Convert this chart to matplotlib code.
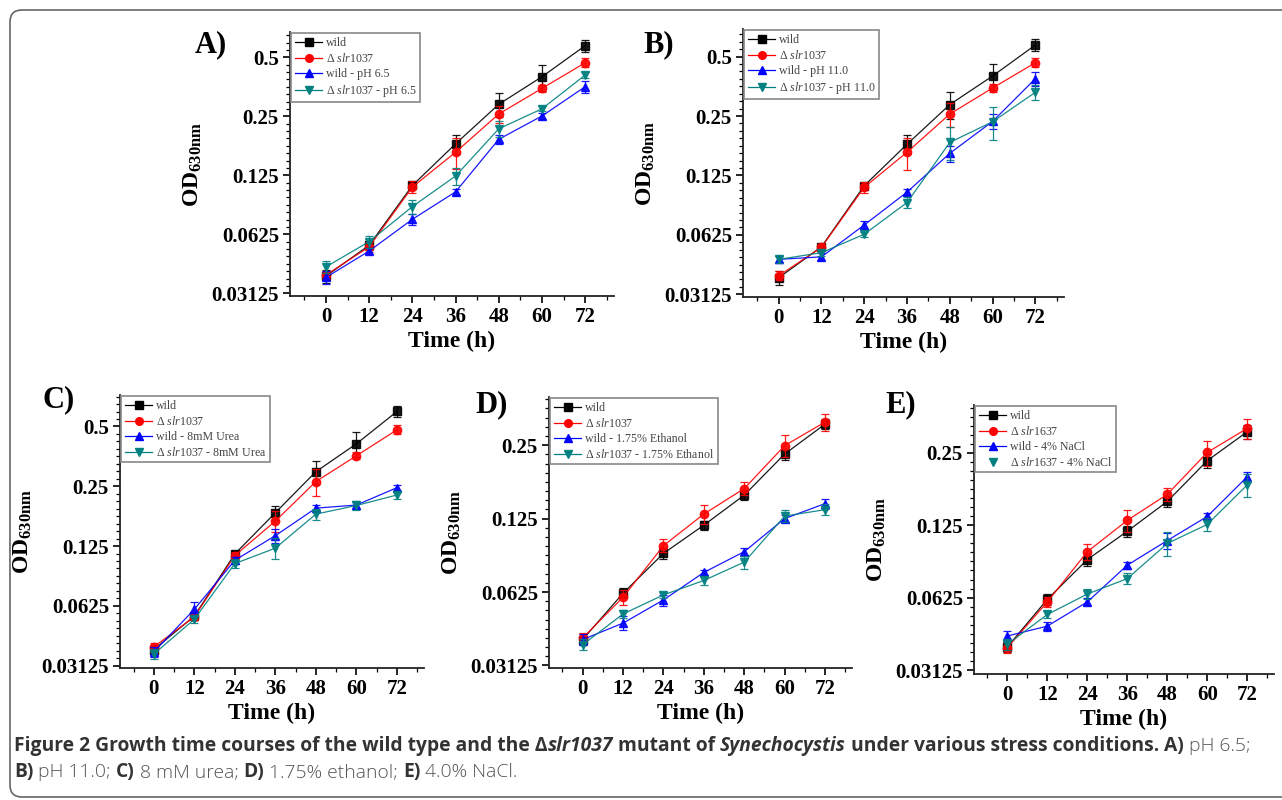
import numpy as np
import matplotlib
matplotlib.use('Agg')
import matplotlib.pyplot as plt
from matplotlib.lines import Line2D
from matplotlib.patches import FancyBboxPatch
from matplotlib.transforms import IdentityTransform
from matplotlib.ticker import FixedLocator, NullFormatter

plt.rcParams['font.family'] = ['Liberation Serif', 'DejaVu Serif']
plt.rcParams['mathtext.fontset'] = 'custom'
plt.rcParams['mathtext.rm'] = 'Liberation Serif'
plt.rcParams['mathtext.it'] = 'Liberation Serif:italic'
plt.rcParams['mathtext.bf'] = 'Liberation Serif:bold'

# time points (h)
time_h = [0, 12, 24, 36, 48, 60, 72]

# A) pH 6.5
a_wild = [0.0383, 0.055, 0.111, 0.181, 0.288, 0.398, 0.573]
a_mut = [0.0388, 0.054, 0.109, 0.164, 0.257, 0.347, 0.469]
a_wild_s = [0.0377, 0.0514, 0.0746, 0.103, 0.191, 0.251, 0.354]
a_mut_s = [0.0427, 0.0574, 0.0866, 0.124, 0.216, 0.273, 0.406]
a_wild_err = [0.003, 0.003, 0.004, 0.02, 0.04, 0.06, 0.04]
a_mut_err = [0.002, 0.003, 0.008, 0.03, 0.025, 0.015, 0.025]
a_wild_s_err = [0.003, 0.002, 0.005, 0.004, 0.01, 0.008, 0.025]
a_mut_s_err = [0.003, 0.004, 0.007, 0.012, 0.02, 0.008, 0.015]

# B) pH 11.0
b_wild = [0.0379, 0.0544, 0.111, 0.180, 0.286, 0.399, 0.573]
b_mut = [0.0388, 0.0541, 0.109, 0.164, 0.256, 0.347, 0.466]
b_wild_s = [0.047, 0.0484, 0.0702, 0.103, 0.162, 0.235, 0.387]
b_mut_s = [0.047, 0.0508, 0.0630, 0.0912, 0.184, 0.234, 0.330]
b_wild_err = [0.003, 0.002, 0.004, 0.02, 0.045, 0.06, 0.04]
b_mut_err = [0.002, 0.002, 0.007, 0.03, 0.035, 0.015, 0.025]
b_wild_s_err = [0.002, 0.002, 0.003, 0.004, 0.015, 0.02, 0.03]
b_mut_s_err = [0.002, 0.002, 0.002, 0.006, 0.035, 0.045, 0.03]

# C) 8 mM urea
c_wild = [0.0376, 0.0555, 0.114, 0.184, 0.296, 0.409, 0.595]
c_mut = [0.0388, 0.055, 0.112, 0.167, 0.264, 0.356, 0.481]
c_wild_s = [0.0366, 0.060, 0.106, 0.141, 0.194, 0.201, 0.246]
c_mut_s = [0.0357, 0.0535, 0.102, 0.122, 0.181, 0.200, 0.226]
c_wild_err = [0.002, 0.002, 0.004, 0.015, 0.04, 0.06, 0.04]
c_mut_err = [0.002, 0.002, 0.004, 0.02, 0.04, 0.015, 0.025]
c_wild_s_err = [0.002, 0.005, 0.004, 0.012, 0.008, 0.008, 0.008]
c_mut_s_err = [0.002, 0.002, 0.005, 0.015, 0.012, 0.01, 0.01]

# D) 1.75% ethanol
d_wild = [0.0399, 0.0618, 0.090, 0.1175, 0.156, 0.230, 0.305]
d_mut = [0.0405, 0.0595, 0.0968, 0.1305, 0.166, 0.249, 0.311]
d_wild_s = [0.0399, 0.0466, 0.058, 0.0752, 0.0915, 0.125, 0.144]
d_mut_s = [0.038, 0.0508, 0.0608, 0.0697, 0.0829, 0.128, 0.136]
d_wild_err = [0.002, 0.003, 0.005, 0.005, 0.007, 0.012, 0.015]
d_mut_err = [0.002, 0.004, 0.006, 0.012, 0.01, 0.025, 0.025]
d_wild_s_err = [0.002, 0.003, 0.003, 0.002, 0.003, 0.004, 0.007]
d_mut_s_err = [0.002, 0.002, 0.002, 0.003, 0.005, 0.007, 0.007]

# E) 4% NaCl
e_wild = [0.039, 0.0615, 0.090, 0.118, 0.157, 0.232, 0.306]
e_mut = [0.0387, 0.060, 0.097, 0.131, 0.168, 0.251, 0.316]
e_wild_s = [0.0433, 0.0476, 0.060, 0.0853, 0.108, 0.136, 0.199]
e_mut_s = [0.040, 0.0532, 0.0647, 0.075, 0.105, 0.126, 0.184]
e_wild_err = [0.002, 0.003, 0.005, 0.006, 0.008, 0.015, 0.02]
e_mut_err = [0.002, 0.003, 0.007, 0.014, 0.01, 0.03, 0.03]
e_wild_s_err = [0.002, 0.002, 0.002, 0.003, 0.008, 0.005, 0.01]
e_mut_s_err = [0.002, 0.002, 0.003, 0.004, 0.012, 0.008, 0.02]

y_ticks_5 = [0.03125, 0.0625, 0.125, 0.25, 0.5]
y_ticks_4 = [0.03125, 0.0625, 0.125, 0.25]
y_tick_labels = ['0.03125', '0.0625', '0.125', '0.25', '0.5']
x_ticks = [0, 12, 24, 36, 48, 60, 72]

colors = ['#000000', '#ff0000', '#0000ff', '#008080']
markers = ['s', 'o', '^', 'v']

W, H = 1282, 800

# panel: letter, data, errors, stress label, mutant name, axes px box (l, r, top, bottom), ylim, yticks, label pos
panels = [
    ('A)', (a_wild, a_mut, a_wild_s, a_mut_s), (a_wild_err, a_mut_err, a_wild_s_err, a_mut_s_err),
     'pH 6.5', 'slr1037', (290, 614, 32, 296), (0.0303, 0.673), y_ticks_5, (195, 45)),
    ('B)', (b_wild, b_mut, b_wild_s, b_mut_s), (b_wild_err, b_mut_err, b_wild_s_err, b_mut_s_err),
     'pH 11.0', 'slr1037', (743, 1064, 29, 297), (0.0303, 0.69), y_ticks_5, (643, 45)),
    ('C)', (c_wild, c_mut, c_wild_s, c_mut_s), (c_wild_err, c_mut_err, c_wild_s_err, c_mut_s_err),
     '8mM Urea', 'slr1037', (120, 424, 395, 668), (0.0304, 0.72), y_ticks_5, (43, 400)),
    ('D)', (d_wild, d_mut, d_wild_s, d_mut_s), (d_wild_err, d_mut_err, d_wild_s_err, d_mut_s_err),
     '1.75% Ethanol', 'slr1037', (549, 852, 397, 668), (0.0305, 0.394), y_ticks_4, (475, 405)),
    ('E)', (e_wild, e_mut, e_wild_s, e_mut_s), (e_wild_err, e_mut_err, e_wild_s_err, e_mut_s_err),
     '4% NaCl', 'slr1637', (974, 1274, 405, 674), (0.0301, 0.395), y_ticks_4, (885, 405)),
]

fig = plt.figure(figsize=(W / 100, H / 100), dpi=100)

for letter, series, errs, stress, mut_name, box, ylim, yticks, lab_pos in panels:
    l, r, t, b = box
    ax = fig.add_axes([l / W, 1 - b / H, (r - l) / W, (b - t) / H])
    labels = ['wild', 'Δ $\\mathit{%s}$' % mut_name, 'wild - ' + stress,
              'Δ $\\mathit{%s}$ - %s' % (mut_name, stress)]
    handles = []
    for i in range(4):
        ax.errorbar(time_h, series[i], yerr=errs[i], color=colors[i], marker=markers[i],
                    ms=6, lw=0.9, elinewidth=0.9, capsize=3, capthick=0.9, alpha=0.9,
                    zorder=3 + i)
        handles.append(Line2D([], [], color=colors[i], marker=markers[i], ms=5.5, lw=0.9))
    if letter == 'E)':
        # the reference legend shows only the marker for this entry
        handles[3] = Line2D([], [], color=colors[3], marker='v', ms=5.5, ls='none')
    ax.set_yscale('log', base=2)
    ax.set_ylim(*ylim)
    ax.set_xlim(-10, 80)
    ax.yaxis.set_major_locator(FixedLocator(yticks))
    ax.set_yticklabels(y_tick_labels[:len(yticks)])
    minors = [0.03125 * 2 ** (k / 8) for k in range(-2, 44) if k % 8 != 0]
    ax.yaxis.set_minor_locator(FixedLocator([m for m in minors if ylim[0] <= m <= ylim[1]]))
    ax.yaxis.set_minor_formatter(NullFormatter())
    ax.xaxis.set_major_locator(FixedLocator(x_ticks))
    ax.xaxis.set_minor_locator(FixedLocator([-6, 6, 18, 30, 42, 54, 66, 78]))
    for side in ['top', 'right']:
        ax.spines[side].set_visible(False)
    for side in ['left', 'bottom']:
        ax.spines[side].set_linewidth(1.3)
        ax.spines[side].set_color('#222222')
    ax.tick_params(which='major', direction='out', length=5, width=1.2, labelsize=15, pad=3)
    ax.tick_params(which='minor', direction='out', length=3, width=0.9)
    for tl in ax.get_xticklabels() + ax.get_yticklabels():
        tl.set_fontweight('bold')
    ax.set_xlabel('Time (h)', fontsize=17, fontweight='bold', labelpad=3)
    ax.set_ylabel('OD$_{\\mathbf{630nm}}$', fontsize=17, fontweight='bold', labelpad=5)
    leg = ax.legend(handles, labels, loc='upper left', bbox_to_anchor=(0, 1), borderaxespad=0.1,
                    fontsize=8.6, handlelength=2.3, handletextpad=0.3, labelspacing=0.25,
                    borderpad=0.3, fancybox=False, framealpha=1, edgecolor='#888888',
                    labelcolor='#444444')
    leg.get_frame().set_linewidth(1.2)
    fig.text(lab_pos[0] / W, 1 - lab_pos[1] / H, letter, fontsize=22, fontweight='bold',
             ha='left', va='center')

# figure border
border = FancyBboxPatch((10, 3), 1300, 787, boxstyle='round,pad=0,rounding_size=12',
                        transform=IdentityTransform(), fill=False, edgecolor='#666666', lw=1.2)
fig.patches.append(border)

# caption built piece by piece
cap_font = ['Open Sans', 'DejaVu Sans']
line1 = [('Figure 2 Growth time courses of the wild type and the Δ', 'bold', 'normal'),
         ('slr1037', 'bold', 'italic'),
         (' mutant of ', 'bold', 'normal'),
         ('Synechocystis', 'bold', 'italic'),
         (' under various stress conditions. ', 'bold', 'normal'),
         ('A)', 'bold', 'normal'),
         (' pH 6.5;', 'light', 'normal')]
line2 = [('B)', 'bold', 'normal'), (' pH 11.0; ', 'light', 'normal'),
         ('C)', 'bold', 'normal'), (' 8 mM urea; ', 'light', 'normal'),
         ('D)', 'bold', 'normal'), (' 1.75% ethanol; ', 'light', 'normal'),
         ('E)', 'bold', 'normal'), (' 4.0% NaCl.', 'light', 'normal')]

renderer = fig.canvas.get_renderer()
for pieces, ypx in [(line1, 751), (line2, 777)]:
    x = 14
    for txt, wt, st in pieces:
        col = '#333333' if wt == 'bold' else '#555555'
        tobj = fig.text(x / W, 1 - ypx / H, txt, fontsize=13.9, fontweight=wt, fontstyle=st,
                        family=cap_font, color=col, ha='left', va='baseline')
        bb = tobj.get_window_extent(renderer=renderer)
        x += bb.width

fig.savefig('out.png', dpi=100)
